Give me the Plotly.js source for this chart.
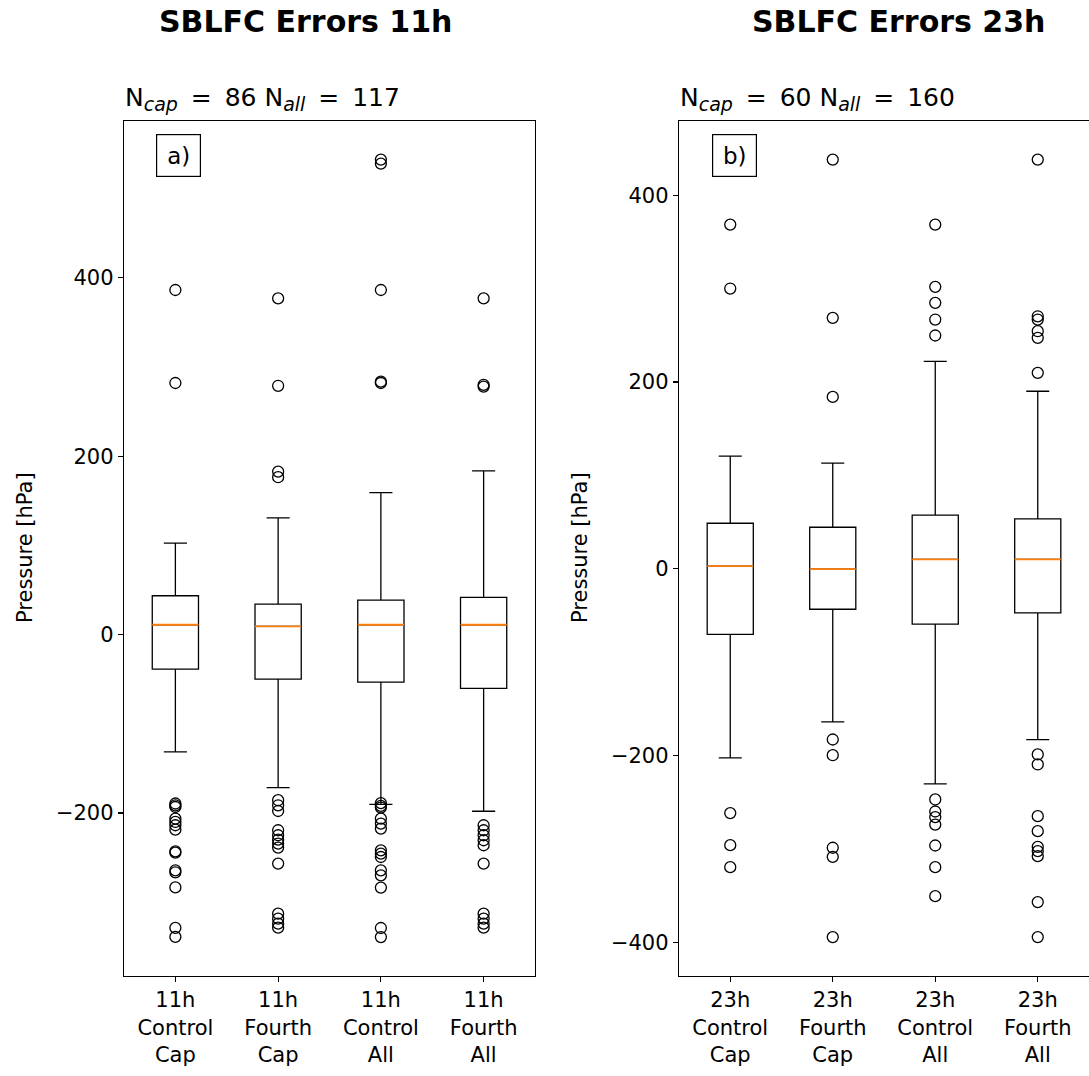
<!DOCTYPE html>
<html>
<head>
<meta charset="utf-8">
<script src="https://cdn.plot.ly/plotly-3.0.1.min.js"></script>
<style>
  html, body { margin: 0; padding: 0; background: #fff; overflow: hidden; }
</style>
</head>
<body>
<div id="chart" style="width:1089px;height:1076px"></div>
<script>
// Box positions and category labels
const positions = [1, 2, 3, 4];
const labels11 = ["11h<br>Control<br>Cap", "11h<br>Fourth<br>Cap", "11h<br>Control<br>All", "11h<br>Fourth<br>All"];
const labels23 = ["23h<br>Control<br>Cap", "23h<br>Fourth<br>Cap", "23h<br>Control<br>All", "23h<br>Fourth<br>All"];

// 11h SBLFC pressure errors [hPa]: box statistics
const q1_11     = [-38.7, -49.9, -53.3, -60.4];
const median_11 = [11.0, 9.2, 11.0, 11.0];
const q3_11     = [43.5, 34.2, 38.7, 41.7];
const lower_11  = [-131.5, -171.5, -190.4, -198.1];
const upper_11  = [102.4, 130.8, 159.1, 183.5];
// 11h outliers, one list per box
const fliers11_controlCap = [386.3, 282.0, -189.4, -191.4, -193.3, -206.3, -210.1, -213.8, -218.7, -243.0, -244.5, -264.3, -266.5, -283.5, -328.8, -338.9];
const fliers11_fourthCap  = [376.9, 278.9, 182.7, 176.4, -185.7, -191.4, -197.8, -219.4, -225.0, -229.9, -234.3, -238.8, -256.8, -312.9, -318.5, -324.1, -328.6];
const fliers11_controlAll = [532.5, 528.0, 386.3, 283.5, 282.0, -189.0, -192.0, -194.0, -206.3, -211.9, -217.5, -241.9, -245.6, -249.4, -264.3, -269.9, -283.7, -329.0, -339.2];
const fliers11_fourthAll  = [376.9, 280.0, 278.0, -213.8, -219.4, -225.0, -230.6, -236.2, -256.8, -312.9, -318.5, -324.1, -328.6];

// 23h SBLFC pressure errors [hPa]: box statistics
const q1_23     = [-70.4, -43.4, -59.4, -47.2];
const median_23 = [2.7, -0.5, 9.9, 9.9];
const q3_23     = [48.7, 44.4, 57.3, 53.4];
const lower_23  = [-202.5, -164.0, -230.5, -183.0];
const upper_23  = [120.5, 113.0, 222.0, 190.0];
// 23h outliers, one list per box
const fliers23_controlCap = [368.5, 300.0, -261.7, -296.0, -319.6];
const fliers23_fourthCap  = [438.1, 268.6, 184.0, -182.9, -199.7, -298.8, -308.5, -394.5];
const fliers23_controlAll = [368.5, 301.8, 284.7, 266.8, 249.7, -247.1, -260.0, -266.0, -274.0, -296.4, -319.6, -350.6];
const fliers23_fourthAll  = [438.1, 270.3, 266.8, 254.3, 247.2, 209.7, -198.9, -209.6, -265.0, -281.0, -297.8, -302.4, -307.8, -357.0, -394.5];

const fliers11 = [fliers11_controlCap, fliers11_fourthCap, fliers11_controlAll, fliers11_fourthAll];
const fliers23 = [fliers23_controlCap, fliers23_fourthCap, fliers23_controlAll, fliers23_fourthAll];

// Sample counts shown above each panel
const nCap11 = 86, nAll11 = 117;
const nCap23 = 60, nAll23 = 160;

const FONT = "DejaVu Sans, Liberation Sans, sans-serif";
const BOX_W = 0.45;

function boxTraces(q1, med, q3, lo, hi, fliers, xa, ya) {
  const box = {
    type: "box", x: positions, q1: q1, median: med, q3: q3,
    lowerfence: lo, upperfence: hi, boxpoints: false,
    width: BOX_W, whiskerwidth: 0.5,
    line: { color: "#000000", width: 1.3 }, fillcolor: "rgba(0,0,0,0)",
    xaxis: xa, yaxis: ya, hoverinfo: "skip", showlegend: false
  };
  // Median drawn on top in orange as a zero-height box
  const medLine = {
    type: "box", x: positions, q1: med, median: med, q3: med,
    lowerfence: med, upperfence: med, boxpoints: false,
    width: BOX_W, whiskerwidth: 0,
    line: { color: "#ff7f0e", width: 1.8 }, fillcolor: "rgba(0,0,0,0)",
    xaxis: xa, yaxis: ya, hoverinfo: "skip", showlegend: false
  };
  const fx = [], fy = [];
  fliers.forEach((list, i) => list.forEach(v => { fx.push(positions[i]); fy.push(v); }));
  const pts = {
    type: "scatter", mode: "markers", x: fx, y: fy,
    marker: { symbol: "circle-open", size: 11, color: "#000000", line: { width: 1.3, color: "#000000" } },
    xaxis: xa, yaxis: ya, hoverinfo: "skip", showlegend: false
  };
  return [box, medLine, pts];
}

function paddedRange(lo, hi, fliers) {
  const all = [].concat(lo, hi, ...fliers);
  const mn = Math.min(...all), mx = Math.max(...all);
  const pad = 0.05 * (mx - mn);
  return [mn - pad, mx + pad];
}

function countLabel(nCap, nAll) {
  const sub = s => "<sub><span style='font-size:19px'><i>" + s + "</i></span></sub>";
  const eq = "\u00a0\u2009=\u2009\u00a0";
  return "N" + sub("cap") + eq + nCap + " N" + sub("all") + eq + nAll;
}

const W = 1089, H = 1076;
const px = v => v / W;
const py = v => 1 - v / H;

const axisCommon = {
  showline: true, mirror: true, linecolor: "#000000", linewidth: 1.2,
  ticks: "outside", ticklen: 5, tickwidth: 1.2, tickcolor: "#000000",
  showgrid: false, zeroline: false, automargin: false,
  tickfont: { family: FONT, size: 21, color: "#000000" }
};

const layout = {
  width: W, height: H,
  margin: { l: 0, r: 0, t: 0, b: 0 },
  paper_bgcolor: "#ffffff", plot_bgcolor: "#ffffff",
  boxmode: "overlay", showlegend: false,
  xaxis: Object.assign({}, axisCommon, {
    domain: [px(124), px(535)], range: [0.5, 4.5],
    tickmode: "array", tickvals: positions, ticktext: labels11, anchor: "y"
  }),
  yaxis: Object.assign({}, axisCommon, {
    domain: [py(976), py(120.7)], range: paddedRange(lower_11, upper_11, fliers11),
    tickmode: "array", tickvals: [-200, 0, 200, 400], anchor: "x"
  }),
  xaxis2: Object.assign({}, axisCommon, {
    domain: [px(679), 1], range: [0.5, 4.5],
    tickmode: "array", tickvals: positions, ticktext: labels23, anchor: "y2"
  }),
  yaxis2: Object.assign({}, axisCommon, {
    domain: [py(976), py(120.7)], range: paddedRange(lower_23, upper_23, fliers23),
    tickmode: "array", tickvals: [-400, -200, 0, 200, 400], anchor: "x2"
  }),
  annotations: [
    { text: "<b>SBLFC Errors 11h</b>", xref: "paper", yref: "paper", x: px(305), y: py(21),
      xanchor: "center", yanchor: "middle", showarrow: false,
      font: { family: FONT, size: 30, color: "#000000" } },
    { text: "<b>SBLFC Errors 23h</b>", xref: "paper", yref: "paper", x: px(898), y: py(21),
      xanchor: "center", yanchor: "middle", showarrow: false,
      font: { family: FONT, size: 30, color: "#000000" } },
    { text: countLabel(nCap11, nAll11), xref: "paper", yref: "paper",
      x: px(123), y: py(117), xanchor: "left", yanchor: "bottom", showarrow: false,
      font: { family: FONT, size: 25, color: "#000000" } },
    { text: countLabel(nCap23, nAll23), xref: "paper", yref: "paper",
      x: px(678), y: py(117), xanchor: "left", yanchor: "bottom", showarrow: false,
      font: { family: FONT, size: 25, color: "#000000" } },
    { text: "a)", xref: "paper", yref: "paper", x: px(178.4), y: py(155.5),
      xanchor: "center", yanchor: "middle", showarrow: false,
      width: 43, height: 41, borderpad: 0, bordercolor: "#000000", borderwidth: 1.2,
      font: { family: FONT, size: 23, color: "#000000" } },
    { text: "b)", xref: "paper", yref: "paper", x: px(734.2), y: py(155.5),
      xanchor: "center", yanchor: "middle", showarrow: false,
      width: 43, height: 41, borderpad: 0, bordercolor: "#000000", borderwidth: 1.2,
      font: { family: FONT, size: 23, color: "#000000" } },
    { text: "Pressure [hPa]", xref: "paper", yref: "paper", x: px(25), y: py(548),
      xanchor: "center", yanchor: "middle", textangle: -90, showarrow: false,
      font: { family: FONT, size: 21, color: "#000000" } },
    { text: "Pressure [hPa]", xref: "paper", yref: "paper", x: px(580), y: py(548),
      xanchor: "center", yanchor: "middle", textangle: -90, showarrow: false,
      font: { family: FONT, size: 21, color: "#000000" } }
  ]
};

const data = [].concat(
  boxTraces(q1_11, median_11, q3_11, lower_11, upper_11, fliers11, "x", "y"),
  boxTraces(q1_23, median_23, q3_23, lower_23, upper_23, fliers23, "x2", "y2")
);

Plotly.newPlot("chart", data, layout, { staticPlot: true, displayModeBar: false });
</script>
</body>
</html>
